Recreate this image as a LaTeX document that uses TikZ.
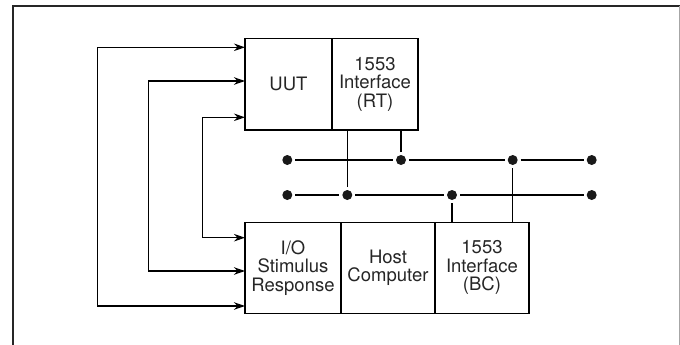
\documentclass[tikz,border=0pt]{standalone}
\usepackage{fontspec}
\setmainfont{TeX Gyre Heros}
\usetikzlibrary{positioning,arrows.meta}

\begin{document}
\begin{tikzpicture}[x=1pt, y=-1pt,
    cell/.style={draw, line width=1.3pt, inner sep=0pt, outer sep=0pt, align=center,
                 font=\fontsize{18.5}{18.6}\selectfont, text=black!85},
    busdot/.style={circle, fill=black!90, inner sep=0pt, minimum size=10pt, outer sep=3pt},
    wire/.style={line width=1.1pt},
    link/.style={line width=1.1pt, {Stealth[length=11pt,width=7.5pt,inset=3.5pt]}-{Stealth[length=11pt,width=7.5pt,inset=3.5pt]}}]
        % Page size and frame
        \useasboundingbox (0,0) rectangle (680,345);
        \draw[line width=2pt, black!85] (12.7,345) -- (12.7,6) -- (680,6);
        \draw[line width=1pt, black!35] (679.5,6) -- (679.5,345);

        % Unit under test
        \node[cell, minimum width=87pt, minimum height=91.7pt] (uut) at (288.5,84.2) {UUT};
        \node[cell, minimum width=86pt, minimum height=91.7pt, right=0pt of uut] (rt) {1553\\Interface\\(RT)};

        % Test set
        \node[cell, minimum width=96pt, minimum height=91pt] (io) at (293,267.8) {I/O\\Stimulus\\Response};
        \node[cell, minimum width=94pt, minimum height=91pt, right=0pt of io] (host) {Host\\Computer};
        \node[cell, minimum width=94pt, minimum height=91pt, right=0pt of host] (bc) {1553\\Interface\\(BC)};

        % Bus A (top) and bus B (bottom)
        \foreach \i/\x in {1/287.3, 2/401, 3/512.7, 4/591.7} {
            \node[busdot] (a\i) at (\x,160) {};
        }
        \foreach \i/\x in {1/287.3, 2/347.3, 3/452, 4/591.7} {
            \node[busdot] (b\i) at (\x,195) {};
        }
        \draw[wire] (a1) -- (a2) -- (a3) -- (a4);
        \draw[wire] (b1) -- (b2) -- (b3) -- (b4);

        % Stubs to the interfaces
        \draw[wire] (b2) -- (b2 |- rt.south);
        \draw[wire] (a2) -- (a2 |- rt.south);
        \draw[wire] (a3) -- (a3 |- bc.north);
        \draw[wire] (b3) -- (b3 |- bc.north);

        % Stimulus and response lines
        \foreach \n/\top/\bot/\x in {1/47.3/306/97.3, 2/81/271/148.3, 3/117.3/237.7/202.7} {
            \coordinate (u\n) at (245,\top);
            \coordinate (s\n) at (245,\bot);
            \draw[link] (u\n) -| (\x,\bot) -- (s\n);
        }
    \end{tikzpicture}
\end{document}
